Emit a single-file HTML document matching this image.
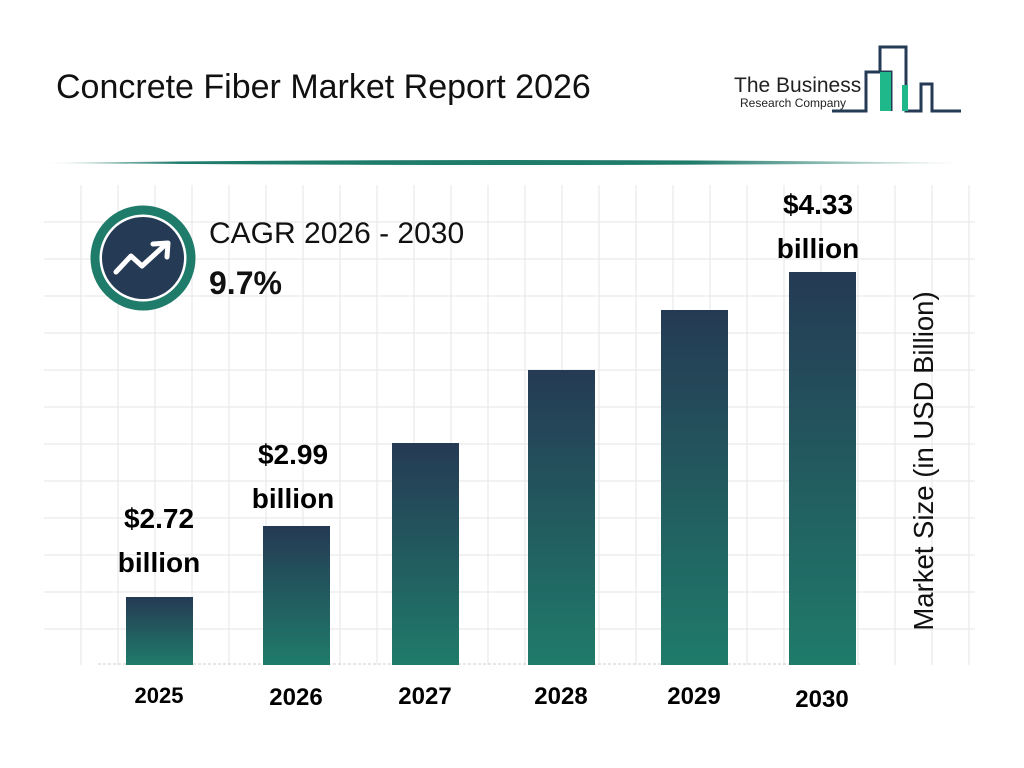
<!DOCTYPE html>
<html><head><style>
body{margin:0;width:1024px;height:768px;background:#fff;font-family:"Liberation Sans",Arial,sans-serif;overflow:hidden;position:relative}
.t{position:absolute;white-space:nowrap}
.bar{position:absolute;width:67px;bottom:103px;background:linear-gradient(#253a54,#1f7b6a)}
.v{position:absolute;font-weight:bold;font-size:28px;text-align:center;width:140px;line-height:44px}
.y{position:absolute;top:683px;font-weight:bold;font-size:22px;width:100px;text-align:center}
</style></head><body>
<svg width="1024" height="768" style="position:absolute;left:0;top:0">
<defs><linearGradient id="hl" x1="0" x2="1"><stop offset="0" stop-color="#fff"/><stop offset="0.15" stop-color="#1f7b6a"/><stop offset="0.7" stop-color="#1f7b6a"/><stop offset="1" stop-color="#fff"/></linearGradient></defs>
<g stroke="#e6e6e6" stroke-width="1">
<path d="M81 185V665M118 185V665M155 185V665M192 185V665M229 185V665M266 185V665M303 185V665M340 185V665M377 185V665M414 185V665M451 185V665M488 185V665M525 185V665M562 185V665M599 185V665M636 185V665M673 185V665M710 185V665M747 185V665M784 185V665M821 185V665M858 185V665M895 185V665M932 185V665M969 185V665"/>
<path d="M44 222H975M44 259H975M44 296H975M44 333H975M44 370H975M44 407H975M44 444H975M44 481H975M44 518H975M44 555H975M44 592H975M44 629H975"/>
</g>
<line x1="98" y1="664" x2="860" y2="664" stroke="#ccc" stroke-dasharray="3 2"/>
<path d="M40 163 Q500 157 970 163 Q500 167 40 163Z" fill="url(#hl)"/>
<circle cx="143" cy="258" r="48" fill="#fff" stroke="#1f7b6a" stroke-width="9"/>
<circle cx="143" cy="258" r="41" fill="#253a54"/>
<polyline points="116,272 131,256 142,266 165,245" fill="none" stroke="#fff" stroke-width="5" stroke-linecap="round" stroke-linejoin="round"/>
<polyline points="153,244 168,243 167,257" fill="none" stroke="#fff" stroke-width="5" stroke-linecap="round" stroke-linejoin="round"/>
<g fill="none" stroke="#253a54" stroke-width="3">
<path d="M832 111H866V72H880V47H906V111H921V84H932V111H961"/>
<path d="M880 72H891V111"/>
</g>
<rect x="880" y="72" width="11" height="39" fill="#1fb88a"/>
<rect x="902" y="85" width="6" height="26" fill="#1fb88a"/>
</svg>
<div class="t" style="left:56px;top:68px;font-size:34px;color:#111">Concrete Fiber Market Report 2026</div>
<div class="t" style="left:734px;top:74px;font-size:21px;color:#222">The Business</div>
<div class="t" style="left:740px;top:96px;font-size:12px;color:#222">Research Company</div>
<div class="t" style="left:209px;top:217px;font-size:30px;color:#111">CAGR 2026 - 2030</div>
<div class="t" style="left:209px;top:265px;font-size:32px;font-weight:bold;color:#111">9.7%</div>
<div class="bar" style="left:126px;height:68px"></div>
<div class="bar" style="left:263px;height:139px"></div>
<div class="bar" style="left:392px;height:222px"></div>
<div class="bar" style="left:528px;height:295px"></div>
<div class="bar" style="left:661px;height:355px"></div>
<div class="bar" style="left:789px;height:393px"></div>
<div class="v" style="left:89px;top:497px">$2.72<br>billion</div>
<div class="v" style="left:223px;top:433px">$2.99<br>billion</div>
<div class="v" style="left:748px;top:183px">$4.33<br>billion</div>
<div class="y" style="left:109px">2025</div>
<div class="y" style="left:246px;top:684px;font-size:24px">2026</div>
<div class="y" style="left:375px;font-size:24px">2027</div>
<div class="y" style="left:511px;font-size:24px">2028</div>
<div class="y" style="left:644px;font-size:24px">2029</div>
<div class="y" style="left:772px;top:686px;font-size:24px">2030</div>
<div class="t" style="left:924px;top:461px;font-size:27.5px;color:#111;transform:translate(-50%,-50%) rotate(-90deg)">Market Size (in USD Billion)</div>
</body></html>
